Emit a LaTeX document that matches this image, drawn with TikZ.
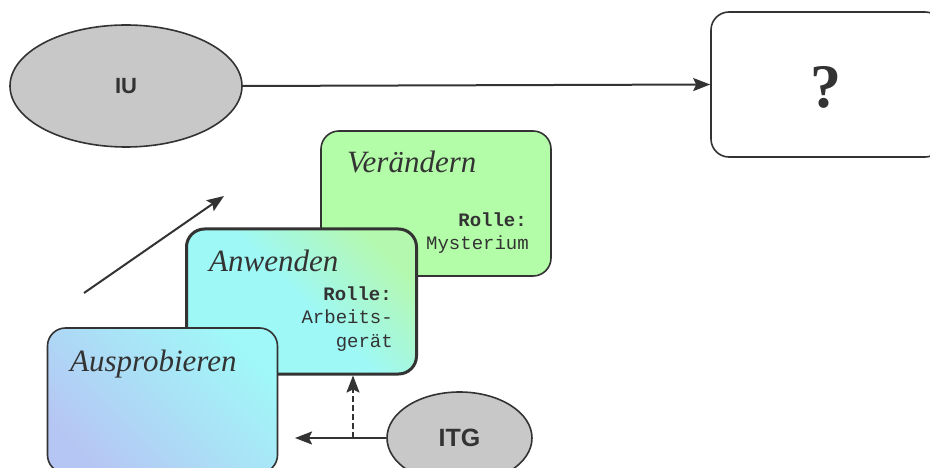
\documentclass[tikz,border=0pt]{standalone}
\usepackage{fontspec}
\setmainfont{Liberation Serif}
\newfontfamily\sansfnt{Liberation Sans}
\newfontfamily\monofnt{Liberation Mono}
\usetikzlibrary{shapes.geometric,arrows.meta}
\definecolor{linec}{HTML}{333333}
\definecolor{ellgray}{HTML}{C8C8C8}
\definecolor{vgreen}{HTML}{B3FDA8}
\definecolor{acyan}{HTML}{9EF8F6}
\definecolor{agreen}{HTML}{B4F8B0}
\definecolor{pblue}{HTML}{B6C6F4}
\definecolor{pcyan}{HTML}{A0F8F8}
\tikzset{
  boxnode/.style={draw=linec, line width=1.6pt, rounded corners=18pt,
    minimum width=230pt, minimum height=145pt, inner sep=0pt},
  ellnode/.style={ellipse, draw=linec, fill=ellgray, line width=1.6pt,
    inner sep=0pt, text=linec},
  titletxt/.style={anchor=base west, text=linec, inner sep=0pt,
    font=\itshape\fontsize{31}{36}\selectfont},
  monotxt/.style={anchor=base east, inner sep=0pt, text=linec,
    font=\monofnt\fontsize{19}{22}\selectfont},
  arr/.style={draw=linec, line width=2pt, -{Stealth[length=17pt,width=13pt,inset=3pt]}}
}
\begin{document}
\begin{tikzpicture}[x=1pt,y=-1pt]
\useasboundingbox (0,0) rectangle (930,468);
\clip (0,0) rectangle (930,468);
\fill[white] (0,0) rectangle (930,468);

% ellipses
\node[ellnode, minimum width=232pt, minimum height=122pt,
  font=\sansfnt\bfseries\fontsize{22}{26}\selectfont] (iu) at (126,86) {IU};
\node[ellnode, minimum width=145pt, minimum height=92pt,
  font=\sansfnt\bfseries\fontsize{25}{30}\selectfont] (itg) at (459.5,438) {ITG};

% question box
\node[boxnode, fill=white, minimum width=232pt] (q) at (827,84.5) {};
\node[text=linec, font=\bfseries\fontsize{62}{62}\selectfont] (qm) at (826,87) {?};

% Veraendern box
\node[boxnode, fill=vgreen] (ver) at (436,203.5) {};
\node[titletxt] (vt) at (347,173) {Verändern};
\node[monotxt, font=\monofnt\bfseries\fontsize{19}{22}\selectfont] (vr) at (527,226) {Rolle:};
\node[monotxt] (vm) at (529,250) {Mysterium};

% Anwenden box
\node[boxnode, line width=3pt, shade, top color=agreen, bottom color=acyan, middle color=acyan, shading angle=-45] (anw) at (301.5,301.5) {};
\node[titletxt] (at) at (209,272) {Anwenden};
\node[monotxt, font=\monofnt\bfseries\fontsize{19}{22}\selectfont] (ar) at (392,300) {Rolle:};
\node[monotxt] (aa) at (393,323) {Arbeits-};
\node[monotxt] (ag) at (393,347) {gerät};

% Ausprobieren box
\node[boxnode, shade, top color=pcyan, bottom color=pblue, shading angle=-45] (aus) at (162.5,400.5) {};
\node[titletxt] (pt) at (70,371) {Ausprobieren};

% connectors
\draw[arr] (iu.east) -- (q.west);
\coordinate (d1) at (84,293);
\coordinate (d2) at (224,196);
\draw[arr] (d1) -- (d2);
\coordinate (ae) at (295,438);
\draw[arr] (itg.west) -- (ae);
\coordinate (dj) at (353,438);
\draw[arr, dashed, dash pattern=on 6pt off 3pt] (dj) -- (dj |- anw.south);
\end{tikzpicture}
\end{document}
